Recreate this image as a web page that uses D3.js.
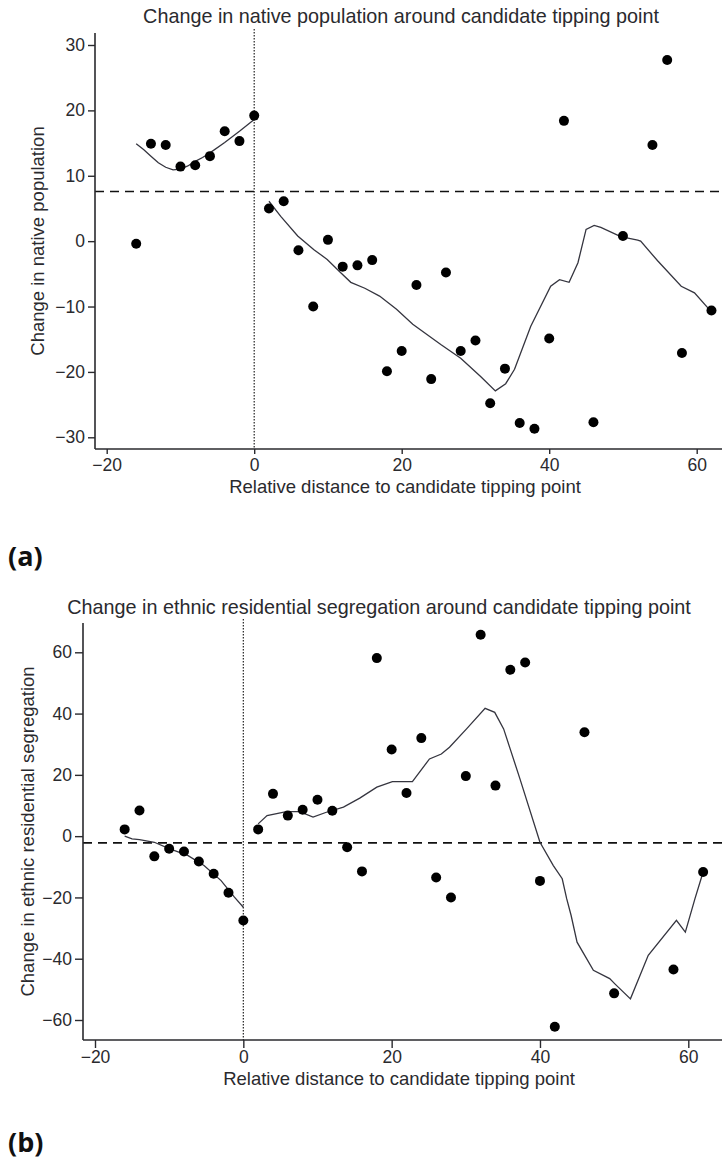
<!DOCTYPE html>
<html>
<head>
<meta charset="utf-8">
<script src="https://d3js.org/d3.v7.min.js"></script>
<style>
  * { margin: 0; padding: 0; }
  body { background: #fff; }
  svg text { font-family: 'Liberation Sans', Arial, Helvetica, sans-serif; fill: #2a2a2e; }
  .tick text { font-size: 17.5px; }
  .tick line { stroke: #2a2a2e; stroke-width: 1.4px; }
  .axisline { stroke: #2a2a2e; stroke-width: 1.6px; }
  .fit { fill: none; stroke: #35353f; stroke-width: 1.3px; }
  .dot { fill: #000; }
  .hline { stroke: #111; stroke-width: 1.6px; stroke-dasharray: 9,6; }
  .vline { stroke: #222; stroke-width: 1.2px; stroke-dasharray: 1.5,1.5; }
  .panel-label { font-family: 'Open Sans', 'DejaVu Sans', sans-serif; font-weight: bold; font-size: 27px; fill: #111; }
</style>
</head>
<body>
<svg id="chart" width="724" height="1164"></svg>
<script>
// ---- panel (a): change in native population ----
let aDotsX = [-16, -14, -12, -10, -8, -6, -4, -2, 0,
  2, 4, 6, 8, 10, 12, 14, 16, 18, 20,
  22, 24, 26, 28, 30, 32, 34, 36, 38, 40, 42,
  46, 50, 54, 56, 58, 62];
let aDotsY = [-0.4, 14.9, 14.7, 11.4, 11.6, 13.0, 16.8, 15.3, 19.2,
  5.0, 6.1, -1.4, -10.0, 0.2, -3.9, -3.7, -2.9, -19.9, -16.8,
  -6.7, -21.1, -4.8, -16.8, -15.2, -24.8, -19.5, -27.8, -28.7, -14.9, 18.4,
  -27.7, 0.8, 14.7, 27.7, -17.1, -10.6];
let aFitLeftX = [-16, -15, -14, -13, -12, -11, -10, -9, -8, -7, -6, -4, -2, 0];
let aFitLeftY = [14.9, 14.0, 13.0, 12.0, 11.3, 10.9, 11.0, 11.5, 12.2, 12.8, 13.5, 15.1, 16.8, 18.6];
let aFitRightX = [2, 3.6, 5.9, 8.1, 9.9, 11.7, 13.1, 15, 17, 19.3, 21.5, 25.3, 28, 30.7, 32.7, 34.1, 35.3,
  37.5, 40.2, 41.4, 42.7, 43.9, 45, 46.1, 47, 49.7, 52, 52.4, 54.7, 57.9, 59.7, 61.9];
let aFitRightY = [6.1, 3.8, 0.8, -1.3, -2.8, -4.8, -6.3, -7.2, -8.4, -10.4, -12.7, -15.8, -17.9, -20.7, -22.9, -21.8, -19.6,
  -13.0, -6.9, -5.9, -6.3, -3.3, 1.8, 2.4, 2.1, 0.7, 0.15, 0, -3.0, -6.9, -7.9, -10.7];
let aCutoff = 7.6;

// ---- panel (b): change in ethnic residential segregation ----
let bDotsX = [-16, -14, -12, -10, -8, -6, -4, -2, 0,
  2, 4, 6, 8, 10, 12, 14, 16, 18, 20,
  22, 24, 26, 28, 30, 32, 34, 36, 38, 40, 42,
  46, 50, 58, 62];
let bDotsY = [2.2, 8.4, -6.6, -4.1, -5.0, -8.3, -12.3, -18.5, -27.5,
  2.2, 13.8, 6.7, 8.6, 11.9, 8.3, -3.6, -11.5, 58.1, 28.3,
  14.1, 32.0, -13.5, -20.0, 19.6, 65.7, 16.5, 54.3, 56.7, -14.6, -62.2,
  33.9, -51.3, -43.5, -11.7];
let bFitLeftX = [-16, -15, -14, -12, -10, -7.5, -5.3, -3, -1.2, 0];
let bFitLeftY = [0, -0.9, -1.1, -2.0, -4.1, -6.3, -9.6, -14.5, -19.9, -23.2];
let bFitRightX = [2, 3.2, 5.8, 7.6, 9.4, 11.2, 13.5, 15.7, 18, 20.1, 22.8, 25.1, 26.7, 27.8, 30.1, 32.6, 33.9, 35.1,
  37.3, 40, 41.8, 43, 43.6, 44.2, 45, 47.2, 49.4, 50.1, 52.2, 54.6, 58.4, 59.6, 60.9, 62];
let bFitRightY = [4, 6.7, 8, 8, 6.2, 7.8, 9.5, 12.4, 16, 17.8, 17.8, 25.2, 26.8, 29, 35, 41.7, 40.4, 35,
  18.7, -2, -9.6, -13.9, -20.4, -25.9, -34.6, -43.8, -46.5, -48.2, -53.1, -38.9, -27.5, -31.3, -20.4, -11.7];
let bCutoff = -2.2;

let xTicks = [-20, 0, 20, 40, 60];
let aYTicks = [-30, -20, -10, 0, 10, 20, 30];
let bYTicks = [-60, -40, -20, 0, 20, 40, 60];

let xTitle = "Relative distance to candidate tipping point";

let svg = d3.select("#chart");

function zip(xs, ys) { return xs.map(function(x, i) { return [x, ys[i]]; }); }

function drawPanel(cfg) {
  let x = d3.scaleLinear().domain([-20, 60]).range(cfg.xRange);
  let y = d3.scaleLinear().domain(cfg.yDom).range(cfg.yRange);
  let g = svg.append("g");

  // title
  g.append("text")
    .attr("x", cfg.titleX).attr("y", cfg.titleY)
    .attr("text-anchor", "middle")
    .style("font-size", "19.8px")
    .text(cfg.title);

  // reference lines
  g.append("line").attr("class", "vline")
    .attr("x1", x(0)).attr("x2", x(0))
    .attr("y1", cfg.top - 4).attr("y2", cfg.bottom);
  g.append("line").attr("class", "hline")
    .attr("x1", cfg.left).attr("x2", cfg.right)
    .attr("y1", y(cfg.cutoff)).attr("y2", y(cfg.cutoff));

  // fitted lines
  let line = d3.line().x(function(d) { return x(d[0]); }).y(function(d) { return y(d[1]); });
  g.append("path").attr("class", "fit").attr("d", line(zip(cfg.fitLX, cfg.fitLY)));
  g.append("path").attr("class", "fit").attr("d", line(zip(cfg.fitRX, cfg.fitRY)));

  // dots
  g.selectAll("circle.dot")
    .data(zip(cfg.dotsX, cfg.dotsY))
    .enter().append("circle")
    .attr("class", "dot")
    .attr("cx", function(d) { return x(d[0]); })
    .attr("cy", function(d) { return y(d[1]); })
    .attr("r", 5);

  // axes
  let yAxis = d3.axisLeft(y).tickValues(cfg.yTicks).tickSize(cfg.tickY).tickSizeOuter(0).tickPadding(3);
  let ya = g.append("g").attr("transform", "translate(" + cfg.left + ",0)").call(yAxis);
  ya.select(".domain").remove();
  g.append("line").attr("class", "axisline")
    .attr("x1", cfg.left).attr("x2", cfg.left)
    .attr("y1", cfg.top).attr("y2", cfg.bottom);

  let xAxis = d3.axisBottom(x).tickValues(xTicks).tickSize(cfg.tickX).tickSizeOuter(0).tickPadding(3);
  let xa = g.append("g").attr("transform", "translate(0," + cfg.bottom + ")").call(xAxis);
  xa.select(".domain").remove();
  xa.selectAll(".tick text").attr("dy", null).attr("y", cfg.xTickBase);
  g.append("line").attr("class", "axisline")
    .attr("x1", cfg.left).attr("x2", cfg.right)
    .attr("y1", cfg.bottom).attr("y2", cfg.bottom);

  // axis titles
  g.append("text")
    .attr("x", cfg.xTitleX).attr("y", cfg.bottom + cfg.xTitleGap)
    .attr("text-anchor", "middle")
    .style("font-size", "18.5px")
    .text(xTitle);
  g.append("text")
    .attr("transform", "translate(" + cfg.yTitleX + "," + ((cfg.top + cfg.bottom) / 2) + ") rotate(-90)")
    .attr("text-anchor", "middle")
    .style("font-size", "18.5px")
    .text(cfg.yTitle);

  // panel label
  svg.append("text").attr("class", "panel-label")
    .attr("x", 8).attr("y", cfg.labelY)
    .text(cfg.label);
}

drawPanel({
  title: "Change in native population around candidate tipping point",
  titleX: 401, titleY: 23,
  yTitle: "Change in native population", yTitleX: 44,
  xTitleX: 405, xTitleGap: 44, xTickBase: 22,
  left: 95, right: 722, top: 33, bottom: 449,
  xRange: [106.7, 696.7], yDom: [-30, 30], yRange: [437.3, 45],
  tickX: 5, tickY: 7,
  yTicks: aYTicks, cutoff: aCutoff,
  dotsX: aDotsX, dotsY: aDotsY,
  fitLX: aFitLeftX, fitLY: aFitLeftY, fitRX: aFitRightX, fitRY: aFitRightY,
  label: "(a)", labelY: 566
});

drawPanel({
  title: "Change in ethnic residential segregation around candidate tipping point",
  titleX: 379, titleY: 614,
  yTitle: "Change in ethnic residential segregation", yTitleX: 34,
  xTitleX: 399, xTitleGap: 45, xTickBase: 23,
  left: 83, right: 722, top: 623, bottom: 1040,
  xRange: [95, 688.3], yDom: [-60, 60], yRange: [1020, 652.3],
  tickX: 8, tickY: 8,
  yTicks: bYTicks, cutoff: bCutoff,
  dotsX: bDotsX, dotsY: bDotsY,
  fitLX: bFitLeftX, fitLY: bFitLeftY, fitRX: bFitRightX, fitRY: bFitRightY,
  label: "(b)", labelY: 1152
});
</script>
</body>
</html>
